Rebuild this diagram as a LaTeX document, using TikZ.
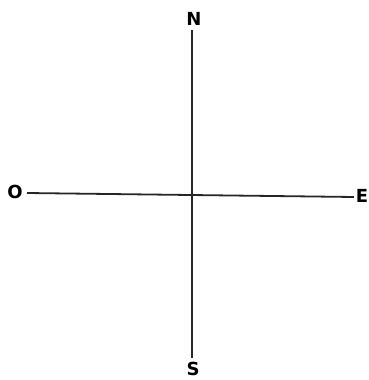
\documentclass[tikz,border=0pt]{standalone}
\usepackage{fontspec}
\setmainfont{DejaVu Sans}
\begin{document}
\begin{tikzpicture}[x=1pt,y=-1pt,
  lbl/.style={font=\bfseries\fontsize{18}{18}\selectfont, inner sep=0pt},
  axis/.style={line width=1.8pt, black!85}]
\useasboundingbox (0,0) rectangle (369,380);
\node[lbl] (N) at (194,19) {N};
\node[lbl] (S) at (193,369) {S};
\node[lbl] (O) at (15,192) {O};
\node[lbl] (E) at (362,196) {E};
\coordinate (nt) at (192,30);
\coordinate (sb) at (192,358);
\coordinate (ol) at (27,193);
\coordinate (er) at (354,197);
\draw[axis] (nt) -- (sb);
\draw[axis] (ol) -- (er);
\end{tikzpicture}
\end{document}
